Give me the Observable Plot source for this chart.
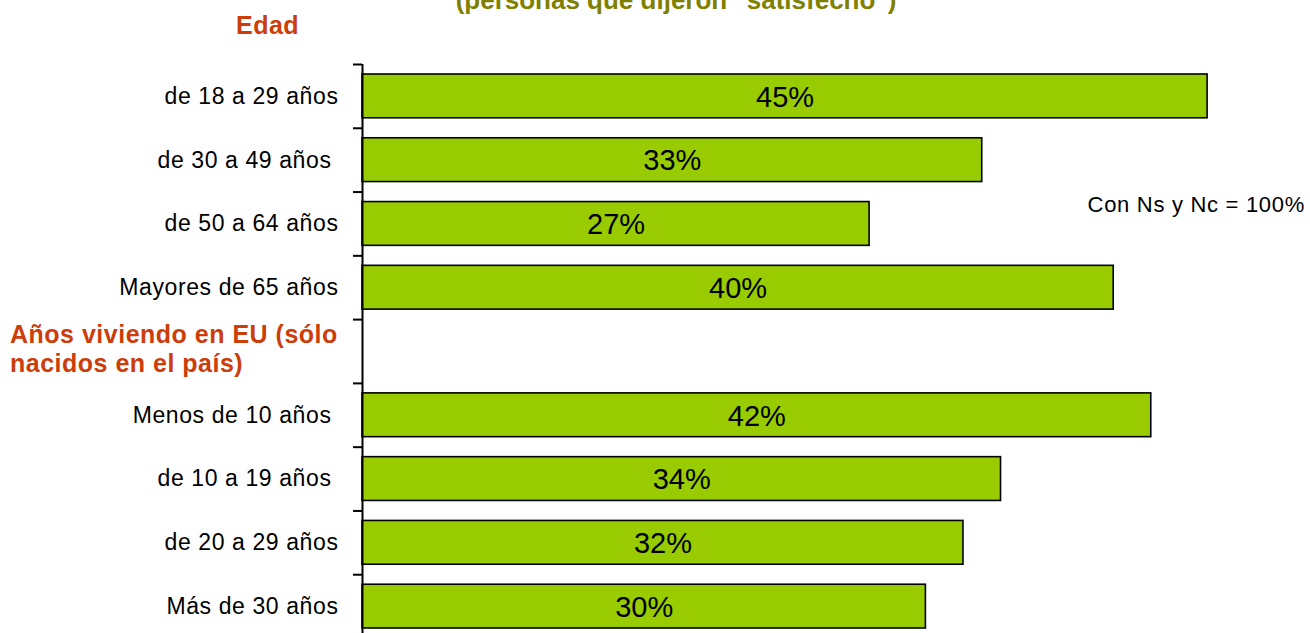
<!DOCTYPE html>
<html><head><meta charset="utf-8">
<script src="https://cdn.jsdelivr.net/npm/d3@7"></script>
<script src="https://cdn.jsdelivr.net/npm/@observablehq/plot@0.6"></script>
<style>
html,body{margin:0;padding:0;overflow:hidden;background:#fff;width:1310px;height:633px}
#wrap{position:relative;width:1310px;height:633px;font-family:"Liberation Sans",Arial,sans-serif;overflow:hidden}
#chart{position:absolute;left:0;top:0}
.title{position:absolute;left:676px;top:-13px;transform:translateX(-50%);white-space:nowrap;font-weight:bold;font-size:26px;line-height:1;color:#808000}
.group{position:absolute;font-weight:bold;font-size:25px;color:#CC3D0A;letter-spacing:0.5px}
.note{position:absolute;right:5px;top:194px;font-size:22px;line-height:1;letter-spacing:0.7px;color:#000;white-space:nowrap}
#chart g[aria-label="y-axis tick label"] text{letter-spacing:0.6px}
</style>
</head><body>
<div id="wrap">
  <div id="chart"></div>
  <div class="title" id="title"></div>
  <div class="group" id="g1" style="left:236px;top:13px;line-height:1"></div>
  <div class="group" id="g2" style="left:10px;top:320px;line-height:29px"></div>
  <div class="note" id="note"></div>
</div>
<script>
// ---- data ----
const titleText = "(personas que dijeron \"satisfecho\")";
const groupLabels = ["Edad", "Años viviendo en EU (sólo nacidos en el país)"];
const noteText = "Con Ns y Nc = 100%";
const categories = [
  "de 18 a 29 años",
  "de 30 a 49 años\u00a0",
  "de 50 a 64 años",
  "Mayores de 65 años",
  "",
  "Menos de 10 años\u00a0",
  "de 10 a 19 años\u00a0",
  "de 20 a 29 años",
  "Más de 30 años"
];
const values = [45, 33, 27, 40, null, 42, 34, 32, 30];

// ---- build ----
const bars = categories.map((c, i) => ({cat: c, value: values[i]})).filter(d => d.value != null);

const height = 638, marginTop = 64, marginBottom = 0;
const step = (height - marginTop - marginBottom) / categories.length;

const chart = Plot.plot({
  width: 1310,
  height,
  marginTop,
  marginBottom,
  marginLeft: 362,
  marginRight: 9,
  style: {fontFamily: "'Liberation Sans', Arial, sans-serif", background: "white", color: "black", overflow: "visible"},
  x: {domain: [0, 50], axis: null},
  y: {domain: categories, padding: 0, round: false, axis: null},
  marks: [
    Plot.barX(bars, {y: "cat", x: "value", fill: "#99CC00", stroke: "black", strokeWidth: 1.6, insetTop: 10, insetBottom: 10}),
    Plot.text(bars, {y: "cat", x: d => d.value / 2, text: d => d.value + "%", fontSize: 29, fill: "black", dy: 1}),
    Plot.axisY({tickSize: 0, tickPadding: 24, fontSize: 23, fill: "black", label: null}),
    Plot.axisY({tickSize: 9, tickFormat: () => "", dy: -step / 2, stroke: "black", strokeWidth: 2, label: null}),
    Plot.ruleX([0], {stroke: "black", strokeWidth: 2})
  ]
});
document.getElementById("chart").appendChild(chart);
document.getElementById("title").textContent = titleText;
document.getElementById("g1").textContent = groupLabels[0];
document.getElementById("g2").innerHTML = "Años viviendo en EU (sólo<br>nacidos en el país)";
document.getElementById("note").textContent = noteText;
</script>
</body></html>
